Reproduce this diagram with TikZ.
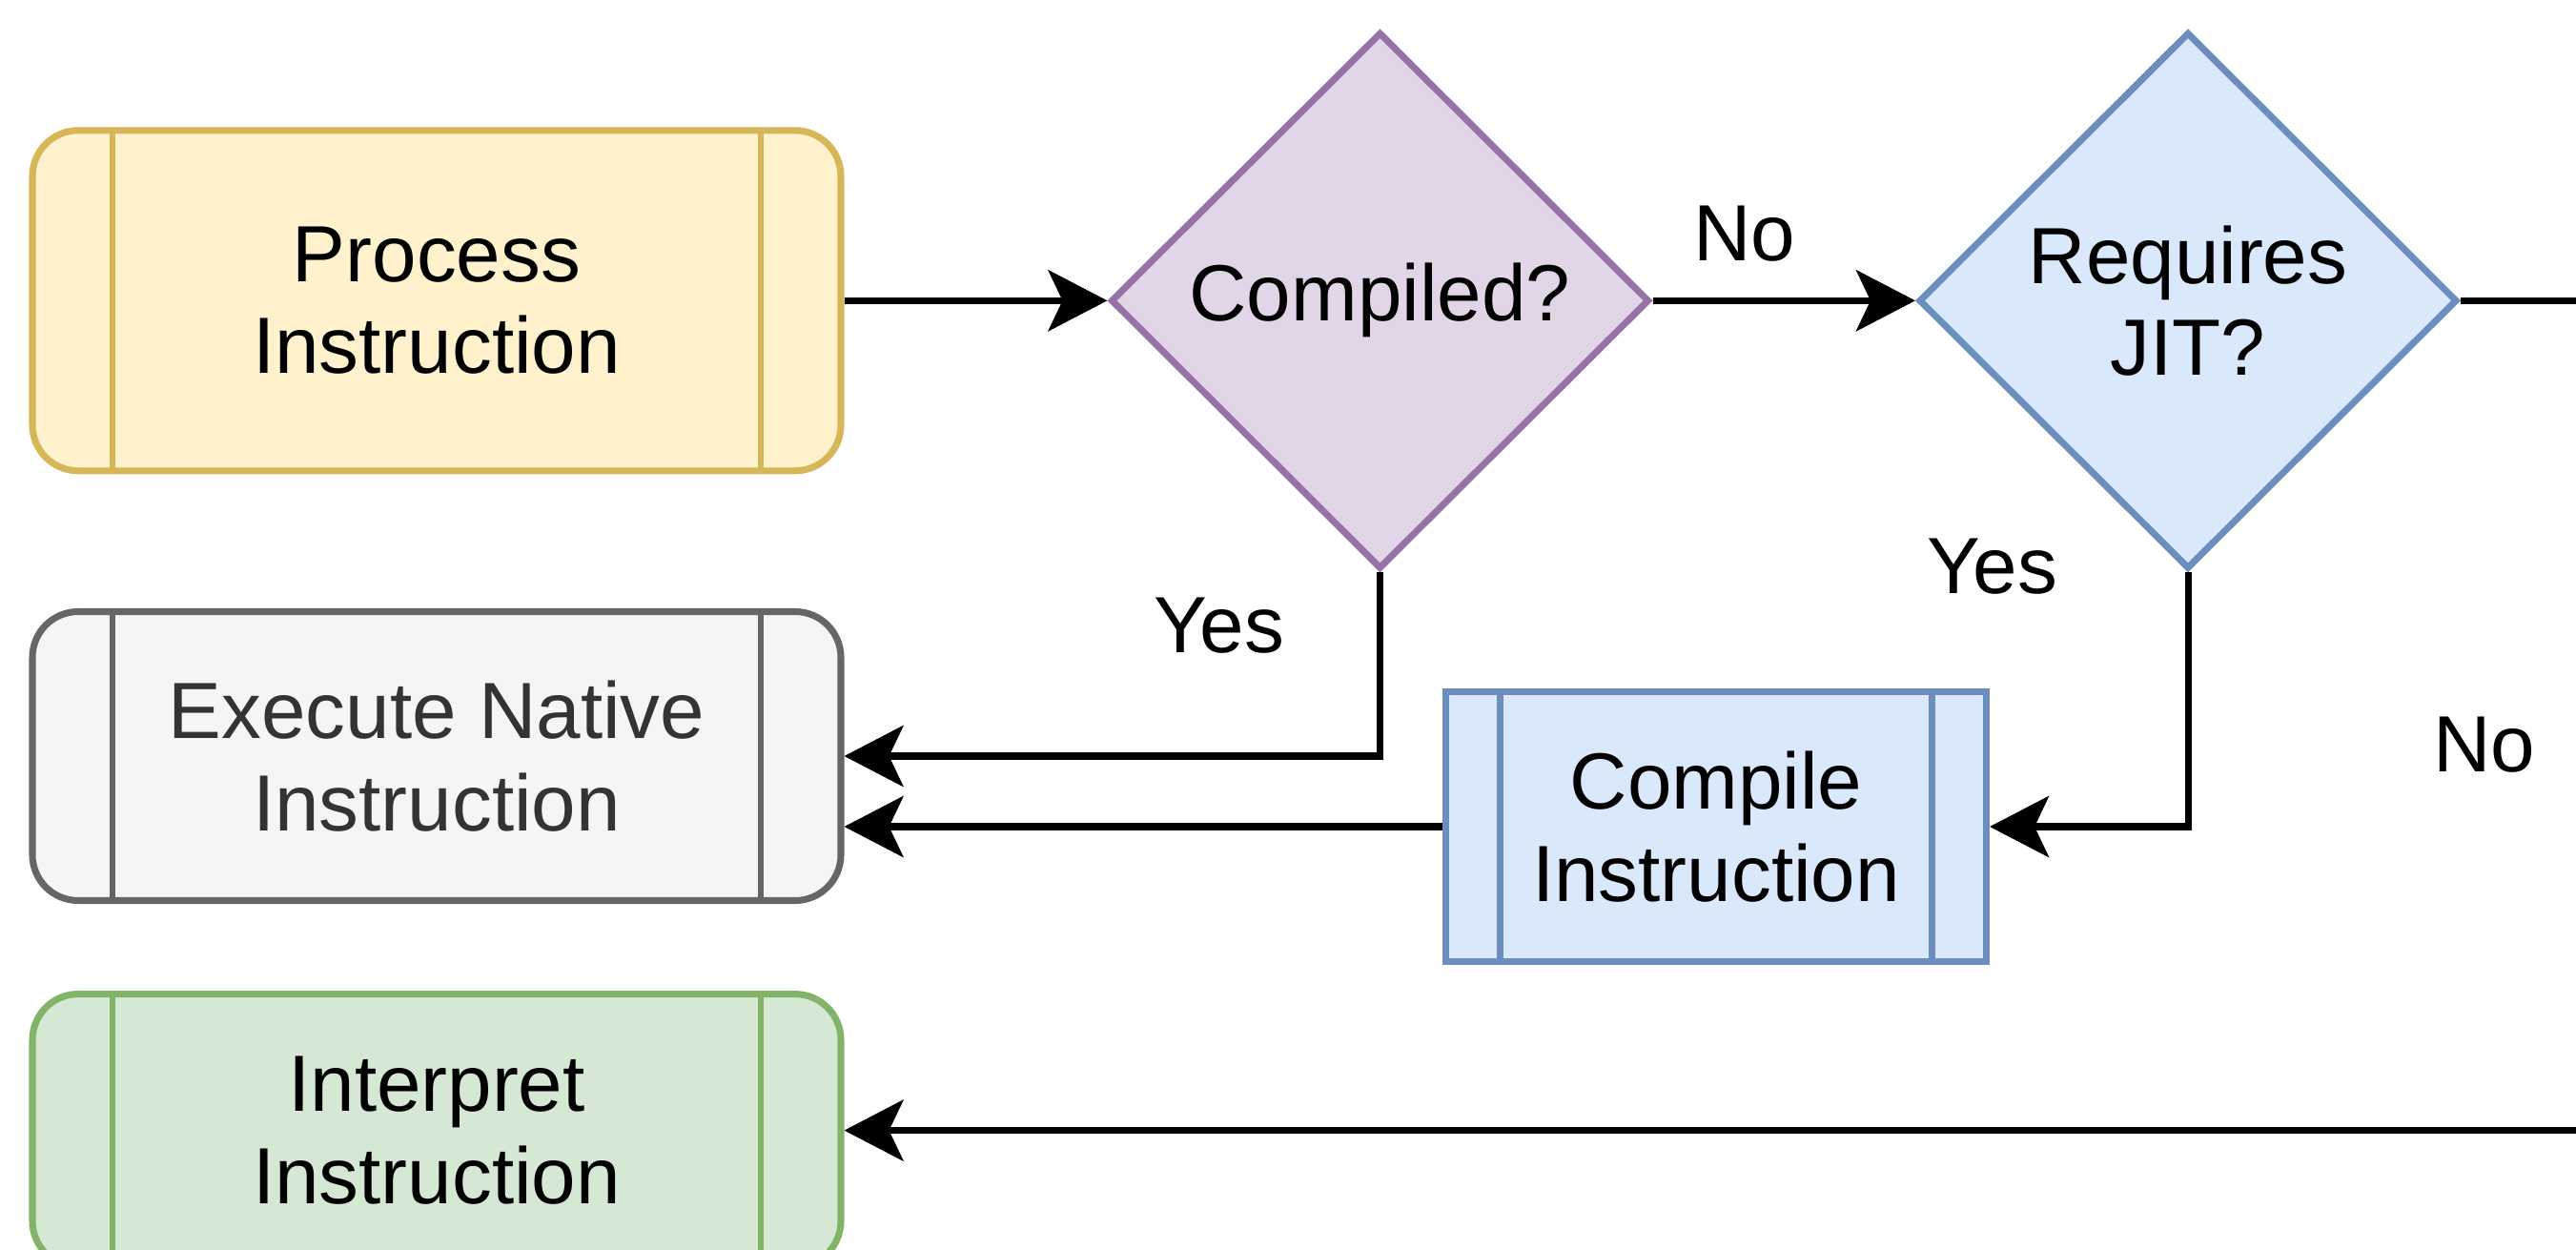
\documentclass[tikz,border=0pt]{standalone}
\usepackage{fontspec}
\setmainfont{Liberation Sans}
\usetikzlibrary{arrows.meta,shapes.geometric,positioning}

\definecolor{yellowline}{HTML}{D6B656}
\definecolor{yellowfill}{HTML}{FFF2CC}
\definecolor{purpleline}{HTML}{9673A6}
\definecolor{purplefill}{HTML}{E1D5E7}
\definecolor{blueline}{HTML}{6C8EBF}
\definecolor{bluefill}{HTML}{DAE8FC}
\definecolor{grayline}{HTML}{666666}
\definecolor{grayfill}{HTML}{F5F5F5}
\definecolor{graytext}{HTML}{333333}
\definecolor{greenline}{HTML}{82B366}
\definecolor{greenfill}{HTML}{D5E8D4}

\begin{document}
\begin{tikzpicture}[x=1cm,y=1cm]
\tikzset{
  flowtext/.style={font=\fontsize{23.8}{27.4}\selectfont,align=center},
  procbox/.style 2 args={rectangle,draw=#1,fill=#2,line width=2pt,flowtext,inner sep=0pt},
  roundproc/.style 2 args={procbox={#1}{#2},rounded corners=0.48cm,minimum width=8.48cm},
  sidebars/.style 2 args={path picture={
    \draw[draw=#1,line width=1.8pt]
      ([xshift=#2]path picture bounding box.north west) -- ([xshift=#2]path picture bounding box.south west)
      ([xshift=-#2]path picture bounding box.north east) -- ([xshift=-#2]path picture bounding box.south east);}},
  decision/.style 2 args={diamond,aspect=1,draw=#1,fill=#2,line width=2pt,flowtext,inner sep=0pt,
    minimum width=5.65cm,minimum height=5.63cm},
  edgelabel/.style={flowtext,inner sep=1pt},
  directed/.style={-{Stealth[length=6.2mm,width=6.4mm,inset=1.5mm]},line width=2pt}
}
\clip (0,0) rectangle (27.02,13.10);
% boxes and decisions
\node[roundproc={yellowline}{yellowfill},sidebars={yellowline}{0.84cm},minimum height=3.57cm] (n_process) at (4.58,9.947) {Process\\Instruction};
\node[decision={purpleline}{purplefill}] (n_compiled) at (14.475,9.947) {Compiled?};
\node[decision={blueline}{bluefill}] (n_jit) at (22.95,9.947) {Requires\\JIT?};
\node[roundproc={grayline}{grayfill},sidebars={grayline}{0.84cm},minimum height=3.03cm,text=graytext] (n_native) at (4.58,5.17) {Execute Native\\Instruction};
\node[procbox={blueline}{bluefill},sidebars={blueline}{0.57cm},minimum width=5.67cm,minimum height=2.83cm] (n_compile) at (18.00,4.43) {Compile\\Instruction};
\node[roundproc={greenline}{greenfill},sidebars={greenline}{0.84cm},minimum height=2.86cm] (n_interp) at (4.58,1.244) {Interpret\\Instruction};
\coordinate (c_right) at (27.6,9.947);
% edge labels
\node[edgelabel] (l_nocomp) at (18.30,10.65) {No};
\node[edgelabel] (l_yescomp) at (12.79,6.535) {Yes};
\node[edgelabel] (l_yesjit) at (20.90,7.155) {Yes};
\node[edgelabel] (l_nojit) at (26.06,5.29) {No};
% connectors
\draw[directed] (n_process.east) -- (n_compiled.west);
\draw[directed] (n_compiled.east) -- (n_jit.west);
\draw[directed] (n_compiled.south) |- (n_native.east);
\draw[directed] (n_jit.south) |- (n_compile.east);
\draw[directed] (n_compile.west) -- (n_compile.west -| n_native.east);
\draw[directed] (n_jit.east) -- (c_right) |- (n_interp.east);
\end{tikzpicture}
\end{document}
